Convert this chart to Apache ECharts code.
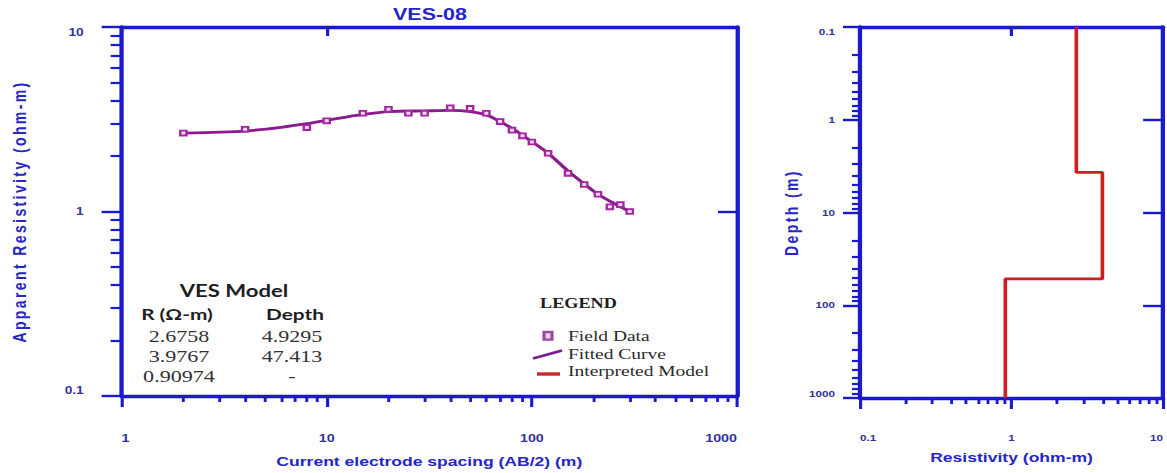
<!DOCTYPE html>
<html><head><meta charset="utf-8">
<script src="https://cdn.jsdelivr.net/npm/echarts@6.0.0/dist/echarts.min.js"></script>
<style>
html,body{margin:0;padding:0;background:#fff;overflow:hidden}
#wrap{width:1167px;height:473px;overflow:hidden;position:relative;background:#fff}
#main{position:absolute;left:0;top:0;height:473px;transform-origin:0 0}
#main svg text[style*="Arial"]{letter-spacing:2.4px}
</style></head>
<body><div id="wrap"><div id="main"></div></div>
<script>
// ---- data ----
const fieldAB2 = [2, 4, 8, 10, 15, 20, 25, 30, 40, 50, 60, 70, 80, 90, 100, 120, 150, 180, 210, 240, 270, 300];
const fieldRho = [2.66, 2.79, 2.85, 3.10, 3.41, 3.58, 3.41, 3.41, 3.65, 3.62, 3.41, 3.07, 2.76, 2.57, 2.38, 2.07, 1.61, 1.40, 1.24, 1.06, 1.09, 1.00];
const fitAB2 = [2, 3, 4, 6, 8, 10, 12, 15, 20, 30, 40, 50, 60, 70, 80, 90, 100, 120, 150, 180, 210, 250, 300];
const fitRho = [2.66, 2.69, 2.73, 2.86, 2.99, 3.12, 3.23, 3.36, 3.48, 3.51, 3.53, 3.48, 3.34, 3.07, 2.82, 2.59, 2.39, 2.07, 1.66, 1.41, 1.24, 1.11, 1.00];
const modelRes = [2.6758, 3.9767, 0.90974];
const modelTop = [0.1, 3.7, 52];
const modelBottom = [3.7, 52, 1000];
const tableR = ['2.6758', '3.9767', '0.90974'];
const tableDepth = ['4.9295', '47.413', '-'];
const xTicksL = [1, 10, 100, 1000];
const yTicksL = [0.1, 1, 10];
const xTicksR = [0.1, 1, 10];
const yTicksR = [0.1, 1, 10, 100, 1000];
const legendItems = ['Field Data', 'Fitted Curve', 'Interpreted Model'];

// ---- layout (reference is horizontally stretched) ----
const S = 1.3;
const W = 1167 / S;
const el = document.getElementById('main');
el.style.width = W + 'px';
el.style.transform = 'scaleX(' + S + ')';
const px = v => v / S;

const FRAME = '#1a1acc', NAMEC = '#2626c4', LABC = '#32329a';
const fmt = v => String(+(+v).toPrecision(6));
function minors(lo, hi) {
  const out = [];
  for (let d = lo; d < hi * 0.999; d *= 10) for (let k = 2; k <= 9; k++) out.push(+(k * d).toPrecision(6));
  return out;
}
const labFont = {color: LABC, fontWeight: 'bold', fontFamily: 'Liberation Sans'};
const nameFontX = {color: NAMEC, fontSize: 13.5, fontWeight: 'bold', fontFamily: 'Liberation Sans'};
const nameFontY = {color: NAMEC, fontSize: 14, fontWeight: 'bold', fontFamily: 'Arial'};

function axis(o) {
  return Object.assign({
    type: 'log', logBase: 10, splitLine: {show: false},
    axisLine: {show: false, onZero: false, lineStyle: {color: FRAME, width: 3.3}},
    axisLabel: {show: false}
  }, o);
}
const tick = (vals, len, inside, w) => ({show: true, inside: !!inside, customValues: vals, length: len, lineStyle: {color: FRAME, width: w || 2.4}});
const line = {show: true, onZero: false, lineStyle: {color: FRAME, width: 3.3}};

const stepData = [];
modelRes.forEach((r, i) => { stepData.push([r, modelTop[i]]); stepData.push([r, modelBottom[i]]); });

const chart = echarts.init(el, null, {renderer: 'svg', width: W, height: 473});

const textStyle = (t, x, y, font, fill, align) => ({
  type: 'text', x: x, y: y,
  style: {text: t, font: font, fill: fill || '#2a2a2a', textAlign: align || 'left', align: align || 'left', textVerticalAlign: 'middle', verticalAlign: 'middle'}
});

const graphics = [
  textStyle('VES Model', px(234), 291, 'bold 17px Lato, "Noto Sans"', '#1e1e1e', 'center'),
  textStyle('R (\u03A9-m)', px(177), 314, 'bold 16px Lato, "Noto Sans"', '#1e1e1e', 'center'),
  textStyle('Depth', px(295), 314, 'bold 16px Lato, "Noto Sans"', '#1e1e1e', 'center'),
  textStyle('LEGEND', px(540), 304, 'bold 14px "Liberation Serif"', '#1e1e1e', 'left'),
  {type: 'rect', shape: {x: px(544), y: 332, width: px(8), height: 7.6}, style: {fill: '#ead0ea', stroke: '#9a48a0', lineWidth: 2.4}},
  {type: 'line', shape: {x1: px(533), y1: 358.5, x2: px(562), y2: 350.5}, style: {stroke: '#7a1f8e', lineWidth: 2.6}},
  {type: 'line', shape: {x1: px(537), y1: 374, x2: px(560), y2: 374}, style: {stroke: '#c42a30', lineWidth: 3.4}}
];
tableR.forEach((t, i) => graphics.push(textStyle(t, px(179), 336 + 20 * i, '17px "Liberation Serif"', '#333', 'center')));
tableDepth.forEach((t, i) => graphics.push(textStyle(t, px(292), 336 + 20 * i, '17px "Liberation Serif"', '#333', 'center')));
legendItems.forEach((t, i) => graphics.push(textStyle(t, px(568), [336, 354, 371][i], '15px "Liberation Serif"', '#2a2a2a', 'left')));

chart.setOption({
  animation: false,
  backgroundColor: '#fff',
  title: {text: 'VES-08', left: px(430), top: 6, padding: 0, textAlign: 'center',
    textStyle: {color: '#2424cc', fontSize: 16.5, fontWeight: 'bold', fontFamily: 'Liberation Sans'}},
  grid: [
    {left: px(120), top: 27, width: px(737 - 120), height: 371, containLabel: false},
    {left: px(860), top: 27, width: px(1172 - 860), height: 371, containLabel: false}
  ],
  xAxis: [
    axis({gridIndex: 0, min: 1, max: 1000, position: 'bottom', axisLine: line,
      axisTick: tick(xTicksL, 11),
      axisLabel: Object.assign({show: true, customValues: xTicksL, formatter: fmt, margin: 37, fontSize: 11, alignMinLabel: 'left', alignMaxLabel: 'right'}, labFont),
      name: 'Current electrode spacing (AB/2) (m)', nameLocation: 'middle', nameGap: 58, nameTextStyle: nameFontX}),
    axis({gridIndex: 0, min: 1, max: 1000, position: 'bottom', axisTick: tick(minors(1, 1000), 6, false, 2.2)}),
    axis({gridIndex: 0, min: 1, max: 1000, position: 'top', axisLine: line, axisTick: tick([10], 9, true)}),
    axis({gridIndex: 1, min: 0.1, max: 10, position: 'bottom', axisLine: line,
      axisTick: tick(xTicksR, 11),
      axisLabel: Object.assign({show: true, customValues: xTicksR, formatter: fmt, margin: 35, fontSize: 9, alignMinLabel: 'left', alignMaxLabel: 'right'}, labFont),
      name: 'Resistivity (ohm-m)', nameLocation: 'middle', nameGap: 52, nameTextStyle: nameFontX}),
    axis({gridIndex: 1, min: 0.1, max: 10, position: 'bottom', axisTick: tick(minors(0.1, 10), 6, false, 2.2)}),
    axis({gridIndex: 1, min: 0.1, max: 10, position: 'top', axisLine: line, axisTick: tick([1], 9, true)})
  ],
  yAxis: [
    axis({gridIndex: 0, min: 0.1, max: 10, position: 'left', axisLine: line,
      axisTick: tick(yTicksL, px(20)),
      axisLabel: Object.assign({show: true, customValues: yTicksL, formatter: fmt, margin: px(38), fontSize: 10.5, verticalAlignMinLabel: 'bottom', verticalAlignMaxLabel: 'top'}, labFont),
      name: 'Apparent Resistivity (ohm-m)', nameLocation: 'middle', nameGap: px(93), nameRotate: 90, nameTextStyle: nameFontY}),
    axis({gridIndex: 0, min: 0.1, max: 10, position: 'left', axisTick: tick(minors(0.1, 10), px(11), false, 2.2)}),
    axis({gridIndex: 0, min: 0.1, max: 10, position: 'right', axisLine: line, axisTick: tick([1], px(19), true)}),
    axis({gridIndex: 1, min: 0.1, max: 1000, inverse: true, position: 'left', axisLine: line,
      axisTick: tick(yTicksR, px(17)),
      axisLabel: Object.assign({show: true, customValues: yTicksR, formatter: fmt, margin: px(25), fontSize: 9, verticalAlignMinLabel: 'top', verticalAlignMaxLabel: 'bottom'}, labFont),
      name: 'Depth (m)', nameLocation: 'middle', nameGap: px(60), nameRotate: 90, nameTextStyle: nameFontY}),
    axis({gridIndex: 1, min: 0.1, max: 1000, inverse: true, position: 'left', axisTick: tick(minors(0.1, 1000), px(8), false, 2.2)}),
    axis({gridIndex: 1, min: 0.1, max: 1000, inverse: true, position: 'right', axisLine: line, axisTick: tick([1, 10, 100], px(20), true)})
  ],
  series: [
    {name: 'Fitted Curve', type: 'line', xAxisIndex: 0, yAxisIndex: 0, smooth: 0.3, showSymbol: false,
      data: fitAB2.map((x, i) => [x, fitRho[i]]), lineStyle: {color: '#8a1a8e', width: 2.8}, z: 3},
    {name: 'Field Data', type: 'scatter', xAxisIndex: 0, yAxisIndex: 0, symbol: 'rect', symbolSize: [4.8, 4.8],
      data: fieldAB2.map((x, i) => [x, fieldRho[i]]),
      itemStyle: {color: '#f4dcf4', borderColor: '#a5249f', borderWidth: 1.8, opacity: 1}, z: 4},
    {name: 'Interpreted Model', type: 'line', xAxisIndex: 3, yAxisIndex: 3, showSymbol: false,
      data: stepData, lineStyle: {color: '#cc1f1f', width: 2.8}, z: 3}
  ],
  graphic: graphics
});
</script></body></html>
